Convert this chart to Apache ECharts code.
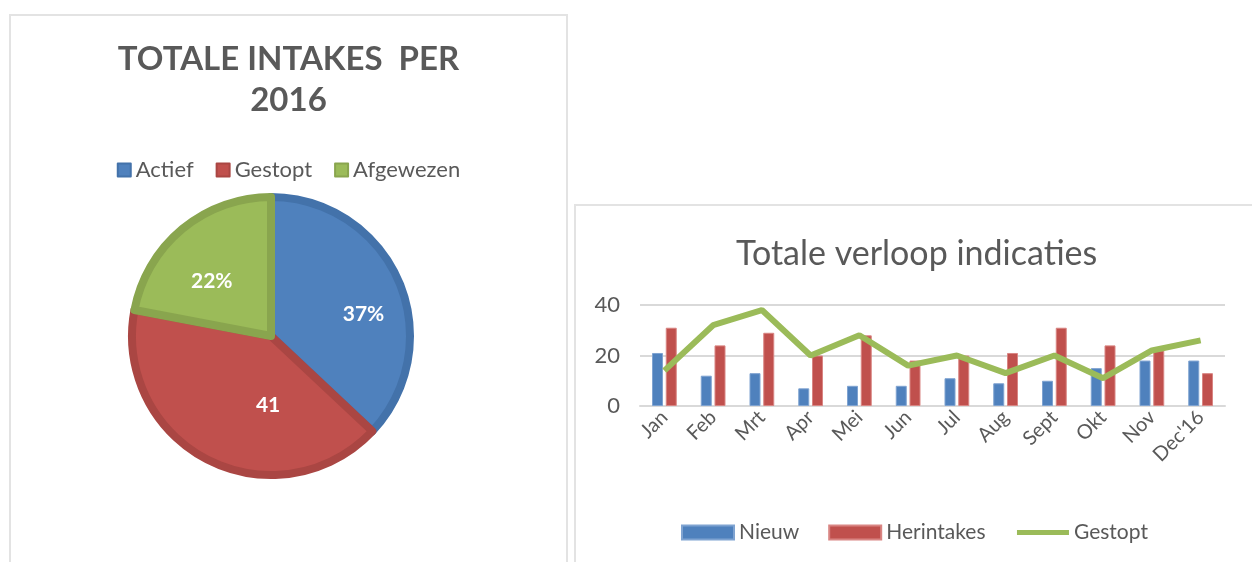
<!DOCTYPE html>
<html>
<head>
<meta charset="utf-8">
<script src="https://cdn.jsdelivr.net/npm/echarts@6/dist/echarts.min.js"></script>
<style>
  html, body { margin: 0; padding: 0; background: #fff; width: 1252px; height: 562px; overflow: hidden; }
  .box { position: absolute; border: 2px solid #e3e3e3; box-sizing: border-box; background: #fff; }
  #pie { left: 9px; top: 14px; width: 559px; height: 570px; }
  #combo { left: 574px; top: 204px; width: 700px; height: 380px; }
</style>
</head>
<body>
<div id="pie" class="box"></div>
<div id="combo" class="box"></div>
<script>
// pie: totale intakes 2016
const pieNames = ['Actief', 'Gestopt', 'Afgewezen']
const pieValues = [37, 41, 22]
const pieColors = ['#4F81BD', '#C0504D', '#9BBB59']
const pieBorders = ['#4372AA', '#AA4643', '#89A54E']

// combo: totale verloop indicaties
const months = ['Jan', 'Feb', 'Mrt', 'Apr', 'Mei', 'Jun', 'Jul', 'Aug', 'Sept', 'Okt', 'Nov', "Dec'16"]
const nieuw = [21, 12, 13, 7, 8, 8, 11, 9, 10, 15, 18, 18]
const herintakes = [31, 24, 29, 20, 28, 18, 20, 21, 31, 24, 22, 13]
const gestopt = [14, 32, 38, 20, 28, 16, 20, 13, 20, 11, 22, 26]

const grey = '#595959'
const font = 'Lato'

// labels staan in excel iets anders dan het midden van de punt
const labelShift = [[26, 7], [30, 5], [-13, 1]]

const pieChart = echarts.init(document.getElementById('pie'))
pieChart.setOption({
  animation: false,
  textStyle: { fontFamily: font },
  title: {
    text: 'TOTALE INTAKES  PER\n2016',
    left: 'center',
    top: 18,
    textStyle: { fontFamily: font, fontSize: 33, fontWeight: 'bold', color: grey, lineHeight: 41 }
  },
  legend: {
    top: 138,
    left: 'center',
    itemWidth: 13,
    itemHeight: 13,
    itemGap: 22,
    icon: 'rect',
    textStyle: { fontFamily: font, fontSize: 22, color: grey }
  },
  series: [{
    type: 'pie',
    center: [260, 320],
    radius: 139,
    startAngle: 90,
    clockwise: true,
    label: {
      position: 'inside',
      color: '#fff',
      fontFamily: font,
      fontSize: 21,
      fontWeight: 'bold',
      // Gestopt toont de waarde, de rest een percentage
      formatter: p => p.dataIndex === 1 ? String(p.value) : p.value + '%'
    },
    labelLayout: p => ({ dx: labelShift[p.dataIndex][0], dy: labelShift[p.dataIndex][1] }),
    labelLine: { show: false },
    emphasis: { disabled: true },
    data: pieNames.map((n, i) => ({
      name: n,
      value: pieValues[i],
      itemStyle: { color: pieColors[i], borderColor: pieBorders[i], borderWidth: 8 }
    }))
  }]
})

const comboChart = echarts.init(document.getElementById('combo'))
comboChart.setOption({
  animation: false,
  textStyle: { fontFamily: font },
  title: {
    text: 'Totale verloop indicaties',
    left: 155,
    top: 26,
    textStyle: { fontFamily: font, fontSize: 34, fontWeight: 'normal', color: grey }
  },
  legend: {
    top: 311,
    left: 100,
    itemWidth: 52,
    itemHeight: 14,
    itemGap: 29,
    textStyle: { fontFamily: font, fontSize: 21, color: grey },
    data: [
      { name: 'Nieuw', icon: 'rect' },
      { name: 'Herintakes', icon: 'rect' },
      { name: 'Gestopt', itemStyle: { opacity: 0 }, lineStyle: { width: 5 } }
    ]
  },
  grid: { left: 64, top: 99, width: 585, height: 101, containLabel: false },
  xAxis: {
    type: 'category',
    data: months,
    axisLine: { lineStyle: { color: '#d9d9d9', width: 2 } },
    axisTick: { show: false },
    axisLabel: { rotate: 45, fontSize: 20, color: grey, margin: 8, interval: 0 }
  },
  yAxis: {
    type: 'value',
    min: 0,
    max: 40,
    interval: 20,
    axisLine: { show: false },
    axisTick: { show: false },
    axisLabel: { fontSize: 22, color: grey, margin: 20 },
    splitLine: { lineStyle: { color: '#d9d9d9', width: 2 } }
  },
  series: [
    {
      name: 'Nieuw',
      type: 'bar',
      data: nieuw,
      barWidth: 11,
      barGap: '25%',
      itemStyle: { color: '#4F81BD', borderColor: '#7FA3D1', borderWidth: 1 }
    },
    {
      name: 'Herintakes',
      type: 'bar',
      data: herintakes,
      barWidth: 11,
      barGap: '25%',
      itemStyle: { color: '#C0504D', borderColor: '#D98583', borderWidth: 1 }
    },
    {
      name: 'Gestopt',
      type: 'line',
      data: gestopt,
      symbol: 'none',
      lineStyle: { color: '#9BBB59', width: 6 },
      itemStyle: { color: '#9BBB59' }
    }
  ]
})

window.addEventListener('resize', () => {
  pieChart.resize()
  comboChart.resize()
})
</script>
</body>
</html>
